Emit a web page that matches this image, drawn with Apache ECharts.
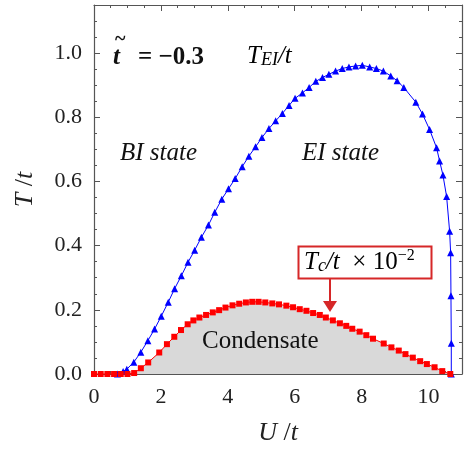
<!DOCTYPE html>
<html>
<head>
<meta charset="utf-8">
<script src="https://cdn.jsdelivr.net/npm/echarts@6/dist/echarts.min.js"></script>
<style>
  html, body { margin: 0; padding: 0; background: #fff; }
  #chart { width: 464px; height: 456px; }
</style>
</head>
<body>
<div id="chart"></div>
<script>
// T_EI/t (blue triangles): [U/t, T/t]
var teiPoints = [
  [0.70, 0], [0.87, 0.008], [0.98, 0.015], [1.19, 0.037], [1.40, 0.068], [1.61, 0.104],
  [1.81, 0.140], [2.01, 0.180], [2.22, 0.224], [2.41, 0.266], [2.61, 0.306], [2.81, 0.348],
  [3.01, 0.386], [3.21, 0.426], [3.42, 0.464], [3.61, 0.504], [3.82, 0.545], [4.02, 0.577],
  [4.22, 0.609], [4.43, 0.646], [4.63, 0.679], [4.83, 0.708], [5.02, 0.737], [5.23, 0.765],
  [5.43, 0.789], [5.63, 0.812], [5.83, 0.837], [6.01, 0.859], [6.23, 0.876], [6.43, 0.893],
  [6.63, 0.912], [6.83, 0.924], [7.02, 0.934], [7.22, 0.944], [7.42, 0.952], [7.62, 0.957],
  [7.82, 0.960], [8.02, 0.962], [8.24, 0.957], [8.44, 0.952], [8.65, 0.944], [8.87, 0.929],
  [9.06, 0.914], [9.26, 0.893], [9.62, 0.847], [9.82, 0.810], [10.03, 0.762], [10.24, 0.705],
  [10.33, 0.664], [10.43, 0.620], [10.54, 0.553], [10.63, 0.445], [10.66, 0.378],
  [10.67, 0.244], [10.68, 0.096], [10.68, 0]
];

// T_c/t x 10^-2 (red squares): [U/t, T/t]
var tcPoints = [
  [0, 0], [0.2, 0], [0.4, 0], [0.6, 0], [0.8, 0], [1.0, 0], [1.2, 0.003], [1.4, 0.018],
  [1.62, 0.036], [1.95, 0.067], [2.18, 0.093], [2.40, 0.116], [2.60, 0.137], [2.80, 0.155],
  [2.97, 0.167], [3.15, 0.176], [3.35, 0.184], [3.55, 0.192], [3.74, 0.199], [3.93, 0.207],
  [4.14, 0.214], [4.34, 0.219], [4.54, 0.223], [4.73, 0.225], [4.92, 0.225], [5.12, 0.223],
  [5.33, 0.220], [5.53, 0.217], [5.75, 0.213], [5.95, 0.208], [6.15, 0.202], [6.35, 0.197],
  [6.55, 0.190], [6.75, 0.184], [6.93, 0.176], [7.14, 0.167], [7.35, 0.158], [7.54, 0.150],
  [7.72, 0.141], [7.94, 0.132], [8.14, 0.121], [8.34, 0.110], [8.66, 0.095], [8.89, 0.083],
  [9.11, 0.073], [9.31, 0.062], [9.53, 0.051], [9.75, 0.040], [9.95, 0.031], [10.18, 0.021],
  [10.41, 0.009], [10.65, 0]
];

var xRange = [0, 11];
var yRange = [0, 1.15];

var serif = '"Liberation Serif", "DejaVu Serif", serif';
var axisColor = '#555';

function frameAxis(pos, isX, showLabel) {
  var ax = {
    type: 'value',
    position: pos,
    min: isX ? xRange[0] : yRange[0],
    max: isX ? xRange[1] : yRange[1],
    interval: isX ? 2 : 0.2,
    splitLine: { show: false },
    axisLine: { show: true, onZero: false, lineStyle: { color: axisColor, width: 1.2 } },
    axisTick: { show: true, inside: true, length: 6, lineStyle: { color: axisColor } },
    minorTick: { show: true, splitNumber: 4, length: 3, lineStyle: { color: axisColor } },
    axisLabel: {
      show: showLabel,
      color: '#222',
      fontFamily: serif,
      fontSize: 22,
      margin: 12,
      showMaxLabel: false,
      formatter: isX ? function (v) { return v; } : function (v) { return v.toFixed(1); }
    }
  };
  return ax;
}

var chart = echarts.init(document.getElementById('chart'));

var nameStyle = {
  rich: {
    i: { fontFamily: serif, fontStyle: 'italic', fontSize: 26, color: '#222' },
    n: { fontFamily: serif, fontSize: 26, color: '#222' }
  }
};
var xMain = frameAxis('bottom', true, true);
xMain.name = '{i|U}{n| /}{i|t}';
xMain.nameLocation = 'middle';
xMain.nameGap = 46;
xMain.nameTextStyle = nameStyle;
var yMain = frameAxis('left', false, true);
yMain.name = '{i|T}{n| /}{i|t}';
yMain.nameLocation = 'middle';
yMain.nameGap = 56;
yMain.nameRotate = 90;
yMain.nameTextStyle = nameStyle;

var option = {
  backgroundColor: '#fff',
  animation: false,
  grid: { left: 94, right: 2, top: 5, bottom: 82 },
  xAxis: [xMain, frameAxis('top', true, false)],
  yAxis: [yMain, frameAxis('right', false, false)],
  series: [
    {
      name: 'Tc',
      type: 'line',
      data: tcPoints,
      symbol: 'rect',
      symbolSize: 6,
      showAllSymbol: true,
      itemStyle: { color: '#ff0000' },
      lineStyle: { color: '#ff0000', width: 1 },
      areaStyle: { color: '#d9d9d9', opacity: 1 },
      z: 3
    },
    {
      name: 'TEI',
      type: 'line',
      data: teiPoints,
      symbol: 'triangle',
      symbolSize: 7,
      showAllSymbol: true,
      itemStyle: { color: '#0000ff' },
      lineStyle: { color: '#0000ff', width: 1 },
      z: 2
    }
  ],
  graphic: [
    { type: 'text', left: 115, top: 30, style: { text: '~', font: 'bold 20px ' + serif, fill: '#111' } },
    { type: 'text', left: 113, top: 45, style: { text: 't', font: 'italic bold 25px ' + serif, fill: '#111' } },
    { type: 'text', left: 138, top: 45, style: { text: '= \u22120.3', font: 'bold 25px ' + serif, fill: '#111' } },
    {
      type: 'text', left: 247, top: 44,
      style: {
        text: '{i|T}{s|EI}{i|/t}',
        rich: {
          i: { fontFamily: serif, fontStyle: 'italic', fontSize: 25, color: '#111' },
          s: { fontFamily: serif, fontStyle: 'italic', fontSize: 18, color: '#111', padding: [8, 0, 0, 0] }
        }
      }
    },
    { type: 'text', left: 120, top: 141, style: { text: 'BI state', font: 'italic 25px ' + serif, fill: '#111' } },
    { type: 'text', left: 302, top: 141, style: { text: 'EI state', font: 'italic 25px ' + serif, fill: '#111' } },
    { type: 'text', left: 202, top: 329, z: 10, style: { text: 'Condensate', font: '25px ' + serif, fill: '#111' } },
    {
      type: 'rect', z: 10,
      shape: { x: 298.5, y: 246.5, width: 133, height: 32 },
      style: { fill: '#fff', stroke: '#d62728', lineWidth: 2 }
    },
    {
      type: 'text', left: 304, top: 248, z: 11,
      style: {
        text: '{i|T}{s|c}{i|/t}{n|  \u00d7 10}{p|\u22122}',
        rich: {
          i: { fontFamily: serif, fontStyle: 'italic', fontSize: 25, color: '#111' },
          s: { fontFamily: serif, fontStyle: 'italic', fontSize: 18, color: '#111', padding: [8, 0, 0, 0] },
          n: { fontFamily: serif, fontSize: 25, color: '#111' },
          p: { fontFamily: serif, fontSize: 16, color: '#111', padding: [0, 0, 12, 0] }
        }
      }
    },
    {
      type: 'line', z: 10,
      shape: { x1: 330, y1: 279, x2: 330, y2: 303 },
      style: { stroke: '#d62728', lineWidth: 2 }
    },
    {
      type: 'polygon', z: 10,
      shape: { points: [[323, 301], [337, 301], [330, 312]] },
      style: { fill: '#d62728' }
    }
  ]
};

chart.setOption(option);
</script>
</body>
</html>
